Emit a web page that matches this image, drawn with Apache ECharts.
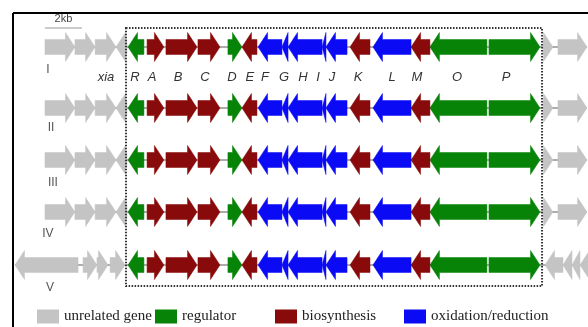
<!DOCTYPE html>
<html><head><meta charset="utf-8">
<script src="https://cdn.jsdelivr.net/npm/echarts/dist/echarts.min.js"></script>
<style>html,body{margin:0;padding:0;background:#fff}#c{width:588px;height:327px}</style>
</head><body><div id="c"></div>
<script>
// ---- data (positions in kb along the locus) ----
const rowNames = ['I', 'II', 'III', 'IV', 'V'];
const rowTrack = [47, 108, 160, 212, 265];          // vertical track layout units
const rowLabelTrack = [70, 128, 183, 234, 288];
const rowLabelX = [2.59, 2.76, 2.86, 2.59, 2.70];

const coreNames  = ['R', 'A', 'B', 'C', 'D', 'E', 'F', 'G', 'H', 'I', 'J', 'K', 'L', 'M', 'O', 'P'];
const coreStart  = [6.92, 7.95, 8.97, 10.70, 12.32, 13.08, 13.95, 15.24, 15.57, 17.41, 17.62, 18.92, 20.16, 22.22, 23.24, 26.43];
const coreEnd    = [7.78, 8.86, 10.65, 11.89, 13.08, 13.89, 15.24, 15.57, 17.41, 17.62, 18.76, 20.00, 22.22, 23.24, 26.32, 29.19];
const coreStrand = [-1, 1, 1, 1, 1, -1, -1, -1, -1, -1, -1, -1, -1, -1, -1, 1];
const coreType   = ['regulator', 'biosynthesis', 'biosynthesis', 'biosynthesis', 'regulator', 'biosynthesis',
                    'oxidation/reduction', 'oxidation/reduction', 'oxidation/reduction', 'oxidation/reduction', 'oxidation/reduction',
                    'biosynthesis', 'oxidation/reduction', 'biosynthesis', 'regulator', 'regulator'];

const geneLabels = ['xia', 'R', 'A', 'B', 'C', 'D', 'E', 'F', 'G', 'H', 'I', 'J', 'K', 'L', 'M', 'O', 'P'];
const geneLabelX = [5.73, 7.30, 8.22, 9.62, 11.08, 12.54, 13.51, 14.32, 15.35, 16.38, 17.19, 17.95, 19.35, 21.19, 22.54, 24.70, 27.35];
const geneLabelTrack = 77;

// flanking (unrelated) genes
const flankLeftStart  = [2.43, 4.05, 5.14, 6.27];
const flankLeftEnd    = [4.05, 5.14, 6.27, 6.86];
const flankLeftStrand = [1, 1, 1, -1];
const flankRightStart  = [29.35, 30.16];
const flankRightEnd    = [29.89, 31.73];
const flankRightStrand = [1, 1];
const vLeftStart  = [0.81, 4.49, 5.24, 5.95];
const vLeftEnd    = [4.22, 5.24, 5.84, 6.76];
const vLeftStrand = [-1, 1, 1, 1];
const vRightStart  = [29.46, 30.43, 30.92, 31.35];
const vRightEnd    = [30.43, 30.92, 31.35, 32.00];
const vRightStrand = [-1, -1, -1, -1];

const scaleBar = [2.43, 4.43];  // 2 kb
const scaleTrack = 28;
const clusterBox = [6.81, 29.30, 28, 286];

const typeNames = ['unrelated gene', 'regulator', 'biosynthesis', 'oxidation/reduction'];
const typeColors = ['#c4c4c4', '#078407', '#880a0a', '#0a0af5'];

// ---- build ----
const byType = {}; typeNames.forEach(t => byType[t] = []);
const backbone = [];
rowTrack.forEach((ty, r) => {
  const isV = r === 4;
  const ls = isV ? vLeftStart : flankLeftStart, le = isV ? vLeftEnd : flankLeftEnd, lst = isV ? vLeftStrand : flankLeftStrand;
  const rs = isV ? vRightStart : flankRightStart, re = isV ? vRightEnd : flankRightEnd, rst = isV ? vRightStrand : flankRightStrand;
  ls.forEach((s, i) => byType['unrelated gene'].push([s, le[i], lst[i], ty]));
  coreStart.forEach((s, i) => byType[coreType[i]].push([s, coreEnd[i], coreStrand[i], ty]));
  rs.forEach((s, i) => byType['unrelated gene'].push([s, re[i], rst[i], ty]));
  backbone.push([Math.min(...ls), Math.max(...re), ty]);
});

function geneItem(params, api) {
  const s = api.value(0), e = api.value(1), strand = api.value(2), ty = api.value(3);
  const p1 = api.coord([s, ty]), p2 = api.coord([e, ty]);
  const x1 = p1[0], x2 = p2[0], cy = p1[1];
  const len = x2 - x1, bh = 7.5, hh = 14.5, hl = Math.min(9.5, len);
  let pts;
  if (strand > 0) {
    const xb = x2 - hl;
    pts = [[x1, cy - bh], [xb, cy - bh], [xb, cy - hh], [x2, cy], [xb, cy + hh], [xb, cy + bh], [x1, cy + bh]];
  } else {
    const xb = x1 + hl;
    pts = [[x2, cy - bh], [xb, cy - bh], [xb, cy - hh], [x1, cy], [xb, cy + hh], [xb, cy + bh], [x2, cy + bh]];
  }
  const c = api.visual('color');
  return { type: 'polygon', shape: { points: pts }, style: { fill: c, stroke: c, lineWidth: 0.5, opacity: 1 } };
}

const series = [];
series.push({
  type: 'custom', name: 'backbone', silent: true, z: 1, data: backbone,
  renderItem: (p, api) => {
    const a = api.coord([api.value(0), api.value(2)]), b = api.coord([api.value(1), api.value(2)]);
    return { type: 'line', shape: { x1: a[0], y1: a[1], x2: b[0], y2: b[1] }, style: { stroke: '#5a5a5a', lineWidth: 1 } };
  }
});
typeNames.forEach((t, i) => series.push({
  type: 'custom', name: t, z: 2, data: byType[t], itemStyle: { color: typeColors[i] },
  renderItem: geneItem
}));
series.push({
  type: 'custom', name: 'box', silent: true, z: 5, data: [clusterBox],
  renderItem: (p, api) => {
    const a = api.coord([api.value(0), api.value(2)]), b = api.coord([api.value(1), api.value(3)]);
    return { type: 'rect', shape: { x: a[0], y: a[1], width: b[0] - a[0], height: b[1] - a[1] },
      style: { fill: 'none', stroke: '#333', lineWidth: 2, lineDash: [1.5, 1.5] } };
  }
});
series.push({
  type: 'custom', name: 'geneLabels', silent: true, z: 6,
  data: geneLabels.map((g, i) => [geneLabelX[i], geneLabelTrack, g]),
  renderItem: (p, api) => {
    const a = api.coord([api.value(0), api.value(1)]);
    return { type: 'text', x: a[0], y: a[1], style: { text: geneLabels[p.dataIndex], align: 'center', verticalAlign: 'middle',
      fontFamily: 'Liberation Sans', fontStyle: 'italic', fontSize: 13, fill: '#333' } };
  }
});
series.push({
  type: 'custom', name: 'rowLabels', silent: true, z: 6,
  data: rowNames.map((n, i) => [rowLabelX[i], rowLabelTrack[i]]),
  renderItem: (p, api) => {
    const a = api.coord([api.value(0), api.value(1)]);
    return { type: 'text', x: a[0], y: a[1], style: { text: rowNames[p.dataIndex], align: 'center', verticalAlign: 'middle',
      fontFamily: 'Liberation Sans', fontSize: 12, fill: '#555' } };
  }
});
series.push({
  type: 'custom', name: 'scale', silent: true, z: 6, data: [[scaleBar[0], scaleBar[1], scaleTrack]],
  renderItem: (p, api) => {
    const a = api.coord([api.value(0), api.value(2)]), b = api.coord([api.value(1), api.value(2)]);
    return { type: 'group', children: [
      { type: 'line', shape: { x1: a[0], y1: a[1], x2: b[0], y2: b[1] }, style: { stroke: '#999', lineWidth: 1 } },
      { type: 'text', x: (a[0] + b[0]) / 2, y: a[1] - 4, style: { text: '2kb', align: 'center', verticalAlign: 'bottom',
        fontFamily: 'Liberation Sans', fontSize: 11, fill: '#444' } }
    ] };
  }
});

const legendBase = { top: 304, itemWidth: 22, itemHeight: 14, icon: 'rect', itemGap: 0,
  textStyle: { fontFamily: 'Liberation Serif', fontSize: 15, color: '#222' }, selectedMode: false };
const legendLeft = [32, 150, 270, 399];

const chart = echarts.init(document.getElementById('c'), null, { renderer: 'canvas' });
chart.setOption({
  animation: false,
  backgroundColor: '#fff',
  grid: { left: 0, right: 0, top: 0, bottom: 0 },
  xAxis: { type: 'value', min: 0, max: 588 / 18.5, show: false },
  yAxis: { type: 'value', min: 0, max: 327, inverse: true, show: false },
  legend: typeNames.map((t, i) => Object.assign({}, legendBase, { data: [t], left: legendLeft[i], z: 10 + i })),
  graphic: [
    { type: 'line', shape: { x1: 13, y1: 13, x2: 600, y2: 13 }, style: { stroke: '#000', lineWidth: 2 } },
    { type: 'line', shape: { x1: 13, y1: 13, x2: 13, y2: 340 }, style: { stroke: '#000', lineWidth: 2 } }
  ],
  series
});
</script></body></html>
